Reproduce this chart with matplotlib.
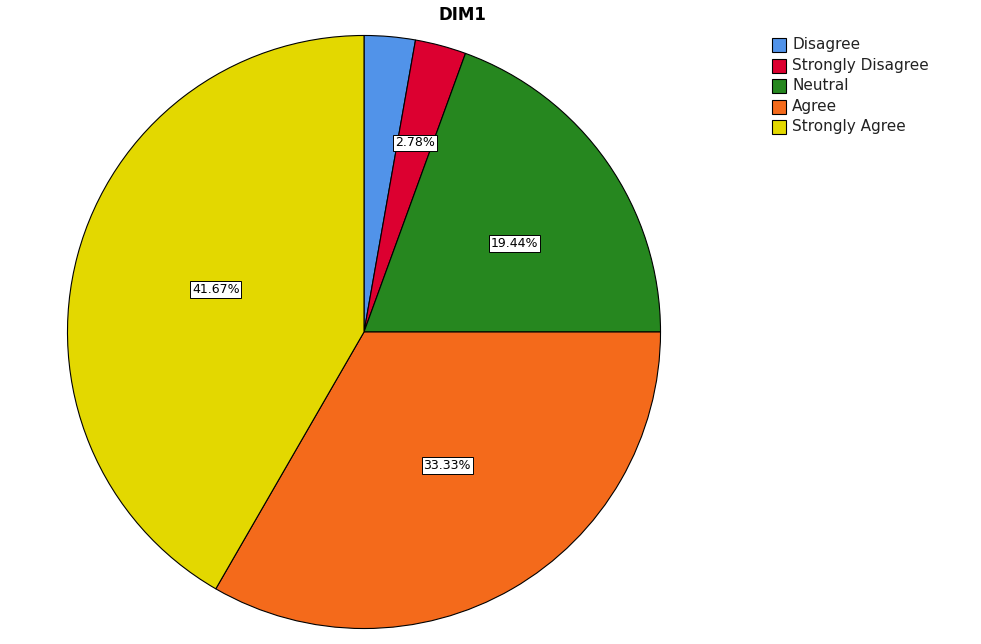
import numpy as np
import matplotlib
matplotlib.use("Agg")
import matplotlib.pyplot as plt
from matplotlib.patches import Rectangle

categories = ["Disagree", "Strongly Disagree", "Neutral", "Agree", "Strongly Agree"]
percents = [2.78, 2.78, 19.44, 33.33, 41.67]
colors = ["#5193e9", "#dc0030", "#26871f", "#f46a1b", "#e3d800"]
# SPSS hides the Disagree label (overlaps its neighbour)
show_label = [False, True, True, True, True]
label_radius = [0.66, 0.66, 0.59, 0.53, 0.52]
label_shift = [0, 0, -4.5, 2, -1]  # degrees, nudges like SPSS placement

W, H = 981, 644
fig = plt.figure(figsize=(W / 100, H / 100), dpi=100)

cx, cy, r = 364, 332, 298
ax = fig.add_axes([(cx - r) / W, (H - cy - r) / H, 2 * r / W, 2 * r / H])
wedges, _ = ax.pie(percents, colors=colors, startangle=90, counterclock=False,
                   radius=1, wedgeprops=dict(edgecolor="black", linewidth=0.8))
ax.set_xlim(-1.005, 1.005)
ax.set_ylim(-1.005, 1.005)
ax.axis("off")

for w, p, show, lr, sh in zip(wedges, percents, show_label, label_radius, label_shift):
    if not show:
        continue
    ang = np.deg2rad((w.theta1 + w.theta2) / 2 + sh)
    ax.text(lr * np.cos(ang), lr * np.sin(ang), f"{p:.2f}%", ha="center", va="center",
            fontsize=9,
            bbox=dict(boxstyle="square,pad=0.15", facecolor="white", edgecolor="black",
                      linewidth=0.7))

fig.text(462 / W, 1 - 15 / H, "DIM1", ha="center", va="center", fontsize=12,
         fontweight="bold")

# legend
for i, (cat, col) in enumerate(zip(categories, colors)):
    y = 45 + i * 20.5
    fig.patches.append(Rectangle((772 / W, 1 - (y + 7) / H), 14 / W, 14 / H,
                                 transform=fig.transFigure, facecolor=col,
                                 edgecolor="black", linewidth=0.8))
    fig.text(792 / W, 1 - y / H, cat, ha="left", va="center", fontsize=11,
             color="#222222")

fig.savefig("out.png", dpi=100)
